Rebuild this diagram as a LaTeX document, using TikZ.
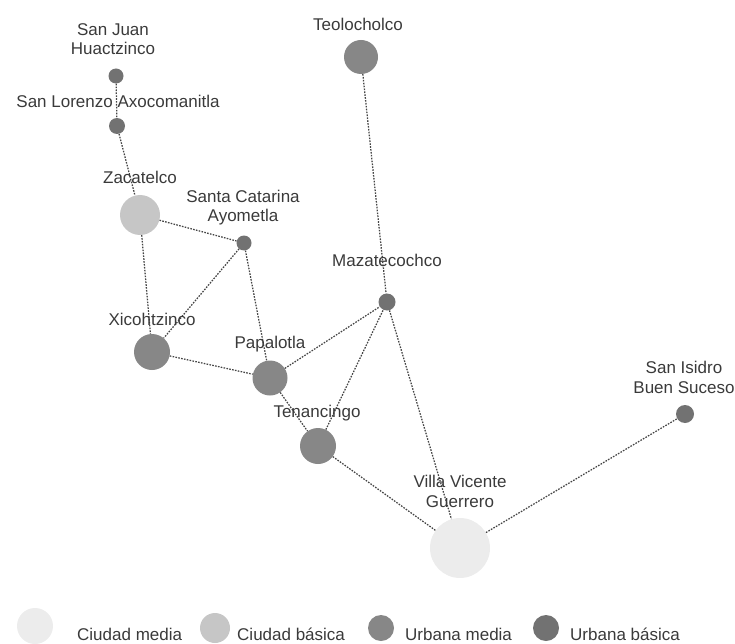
\documentclass[tikz,border=0pt]{standalone}
\usepackage{fontspec}
\setmainfont{Liberation Sans}
\definecolor{umed}{HTML}{878787}
\definecolor{ubas}{HTML}{727272}
\definecolor{cbas}{HTML}{C6C6C6}
\definecolor{cmed}{HTML}{ECECEC}
\definecolor{edgec}{HTML}{444444}
\definecolor{txt}{HTML}{3A3A3A}
\begin{document}
\begin{tikzpicture}[x=1pt,y=-1pt,
  lbl/.style={font=\fontsize{17}{19.5}\selectfont, text=txt, align=center, inner sep=0pt, anchor=base},
  city/.style={circle, inner sep=0pt, minimum size=#1},
  um/.style={city=#1, fill=umed},
  ub/.style={city=#1, fill=ubas},
  cb/.style={city=#1, fill=cbas},
  cm/.style={city=#1, fill=cmed},
  link/.style={draw=edgec, line width=1.25pt, dash pattern=on 1.6pt off 1.3pt},
]
\useasboundingbox (0,0) rectangle (735,644);

% towns
\node[ub=15] (sjh) at (116,76) {};
\node[ub=16] (sla) at (117,126) {};
\node[cb=40] (zac) at (140,215) {};
\node[ub=15] (sca) at (244,243) {};
\node[um=34] (teo) at (361,57) {};
\node[ub=17] (maz) at (387,302) {};
\node[um=36] (xic) at (152,352) {};
\node[um=35] (pap) at (270,378) {};
\node[um=36] (ten) at (318,446) {};
\node[cm=60] (vvg) at (460,548) {};
\node[ub=18] (sib) at (685,414) {};

% links
\draw[link] (sjh) -- (sla);
\draw[link] (sla) -- (zac);
\draw[link] (zac) -- (sca);
\draw[link] (zac) -- (xic);
\draw[link] (sca) -- (xic);
\draw[link] (sca) -- (pap);
\draw[link] (xic) -- (pap);
\draw[link] (pap) -- (maz);
\draw[link] (pap) -- (ten);
\draw[link] (ten) -- (maz);
\draw[link] (ten) -- (vvg);
\draw[link] (maz) -- (vvg);
\draw[link] (teo) -- (maz);
\draw[link] (vvg) -- (sib);

% labels (base = baseline of last line)
\node[lbl] (lsjh) at (113,55) {San Juan\\Huactzinco};
\node[lbl] (lsla) at (118,108) {San Lorenzo Axocomanitla};
\node[lbl] (lzac) at (140,184) {Zacatelco};
\node[lbl] (lsca) at (243,222) {Santa Catarina\\Ayometla};
\node[lbl] (lteo) at (358,31) {Teolocholco};
\node[lbl] (lmaz) at (387,266) {Mazatecochco};
\node[lbl] (lxic) at (152,325) {Xicohtzinco};
\node[lbl] (lpap) at (270,348) {Papalotla};
\node[lbl] (lten) at (317,417) {Tenancingo};
\node[lbl] (lvvg) at (460,507) {Villa Vicente\\Guerrero};
\node[lbl] (lsib) at (684,393) {San Isidro\\Buen Suceso};

% legend
\node[cm=36] (kcm) at (35,626) {};
\node[lbl, anchor=base west] (tcm) at (77,640) {Ciudad media};
\node[cb=30] (kcb) at (215,628) {};
\node[lbl, anchor=base west] (tcb) at (237,640) {Ciudad básica};
\node[um=26] (kum) at (381,628) {};
\node[lbl, anchor=base west] (tum) at (405,640) {Urbana media};
\node[ub=26] (kub) at (546,628) {};
\node[lbl, anchor=base west] (tub) at (570,640) {Urbana básica};
\end{tikzpicture}
\end{document}
